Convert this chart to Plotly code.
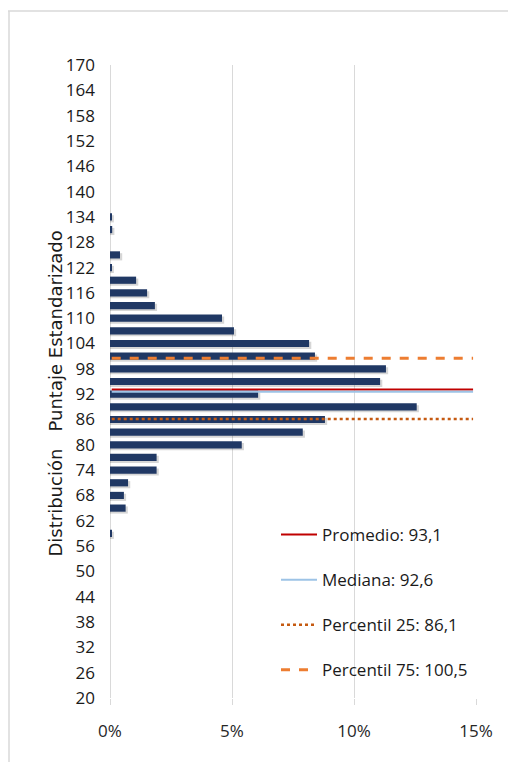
import plotly.graph_objects as go

# Data
scores = [59, 65, 68, 71, 74, 77, 80, 83, 86, 89, 92, 95, 98, 101, 104, 107,
          110, 113, 116, 119, 122, 125, 131, 134]
pct = [0.07, 0.64, 0.57, 0.74, 1.91, 1.91, 5.40, 7.90, 8.81, 12.57, 6.07, 11.07,
       11.31, 8.40, 8.16, 5.08, 4.59, 1.84, 1.52, 1.07, 0.07, 0.41, 0.09, 0.07]
share = [p / 100 for p in pct]

ref_names = ["Promedio: 93,1", "Mediana: 92,6", "Percentil 25: 86,1", "Percentil 75: 100,5"]
ref_values = [93.1, 92.6, 86.1, 100.5]
ref_colors = ["#C00000", "#9DC3E6", "#C55A11", "#ED7D31"]
ref_dash = ["solid", "solid", "dot", "dash"]
ref_width = [2, 2, 2.5, 3]
line_x = [0.0007, 0.1488]

y_ticks = list(range(20, 171, 6))
x_ticks = [0, 0.05, 0.10, 0.15]
x_labels = ["0%", "5%", "10%", "15%"]

FONT = "Open Sans"
BW = 1.7

fig = go.Figure()
# soft shadow beneath the bars
fig.add_trace(go.Bar(
    y=scores, x=[s + 0.0009 for s in share], orientation="h", width=BW,
    offset=-BW / 2 - 0.45, marker=dict(color="rgba(0,0,0,0.16)", line=dict(width=0)),
    showlegend=False, hoverinfo="skip"))
fig.add_trace(go.Bar(
    y=scores, x=share, orientation="h", width=BW,
    marker=dict(color="#203864", line=dict(width=0)), showlegend=False))

for i, (n, v, c, d, w) in enumerate(zip(ref_names, ref_values, ref_colors, ref_dash, ref_width)):
    fig.add_trace(go.Scatter(
        x=line_x, y=[v, v], mode="lines", name=n, legendgroup=str(i),
        line=dict(color=c, dash=d, width=w)))

# page body has an 8px margin; figure coords = reference coords - 8
W, H = 508, 754
L, T = 102, 57
R = W - 468
B = H - 690
pw, ph = W - L - R, H - T - B

fig.update_layout(
    width=W, height=H, barmode="overlay",
    margin=dict(l=L, r=R, t=T, b=B),
    paper_bgcolor="white", plot_bgcolor="white",
    font=dict(family=FONT, size=17, color="#1a1a1a"),
    xaxis=dict(range=[0, 0.15], tickvals=x_ticks, ticktext=x_labels,
               showgrid=True, gridcolor="#d9d9d9", gridwidth=1,
               zeroline=True, zerolinecolor="#d9d9d9", zerolinewidth=1,
               ticks="outside", ticklen=6, tickcolor="#d9d9d9",
               ticklabelstandoff=12, showline=False,
               tickfont=dict(size=17, color="#262626")),
    yaxis=dict(range=[20, 170], tickvals=y_ticks, showgrid=False, zeroline=False,
               showline=False, ticks="", ticklabelstandoff=14,
               tickfont=dict(size=17, color="#1a1a1a")),
    legend=dict(x=(268 - L) / pw, y=(H - B - 509) / ph, xanchor="left", yanchor="top",
                bgcolor="rgba(0,0,0,0)", font=dict(size=17, family=FONT, color="#1a1a1a"),
                tracegroupgap=20, itemwidth=36),
    showlegend=True,
    shapes=[
        dict(type="line", xref="paper", yref="paper",
             x0=(0 - L) / pw, x1=(W + 5 - L) / pw, y0=(H - B - 3) / ph, y1=(H - B - 3) / ph,
             line=dict(color="#d9d9d9", width=1.5)),
        dict(type="line", xref="paper", yref="paper",
             x0=(1 - L) / pw, x1=(1 - L) / pw, y0=(H - B - 3) / ph, y1=-0.2,
             line=dict(color="#d9d9d9", width=1.5)),
    ],
    annotations=[dict(text="Distribución   Puntaje Estandarizado", textangle=-90,
                      xref="paper", yref="paper", x=(34 - L) / pw, y=(H - B - 386) / ph,
                      showarrow=False, font=dict(size=18, family="DejaVu Sans", color="#1a1a1a"))],
)

fig.write_html("out.html")
